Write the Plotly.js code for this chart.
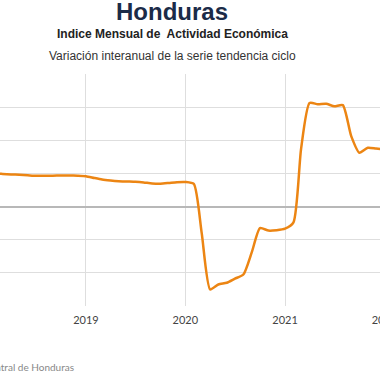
<!DOCTYPE html>
<html>
<head>
<meta charset="utf-8">
<script src="https://cdn.plot.ly/plotly-3.0.1.min.js"></script>
<style>
html,body{margin:0;padding:0;width:380px;height:380px;overflow:hidden;background:#fff;}
#chart{position:absolute;left:-60px;top:0;width:500px;height:380px;}
</style>
</head>
<body>
<div id="chart"></div>
<script>
// Monthly dates (first of month), Jan 2018 .. Jan 2022
const months = [
 '2018-01','2018-02','2018-03','2018-04','2018-05','2018-06','2018-07','2018-08','2018-09','2018-10','2018-11','2018-12',
 '2019-01','2019-02','2019-03','2019-04','2019-05','2019-06','2019-07','2019-08','2019-09','2019-10','2019-11','2019-12',
 '2020-01','2020-02','2020-03','2020-04','2020-05','2020-06','2020-07','2020-08','2020-09','2020-10','2020-11','2020-12',
 '2021-01','2021-02','2021-03','2021-04','2021-05','2021-06','2021-07','2021-08','2021-09','2021-10','2021-11','2021-12',
 '2022-01'
];
// Variación interanual (%) de la serie tendencia ciclo
const variacion = [
 4.1, 4.0, 3.94, 3.88, 3.84, 3.78, 3.72, 3.72, 3.73, 3.76, 3.76, 3.73,
 3.67, 3.45, 3.27, 3.15, 3.07, 3.03, 2.99, 2.91, 2.79, 2.76, 2.85, 2.95,
 2.97, 2.73, -3.2, -10.0, -9.4, -9.2, -8.7, -8.2, -5.5, -2.6, -2.9, -2.85,
 -2.67, -1.9, 7.0, 12.5, 12.36, 12.4, 12.1, 12.24, 8.5, 6.5, 7.1, 7.0,
 6.9
];
const titulo = 'Honduras';
const subtitulo = 'Indice Mensual de  Actividad Económica';
const subtitulo2 = 'Variación interanual de la serie tendencia ciclo';
const fuente = 'Fuente: Banco Central de Honduras';

const trace = {
  x: months.map(m => m + '-01'),
  y: variacion,
  type: 'scatter',
  mode: 'lines',
  line: {color: '#EC8513', width: 2.5, shape: 'spline', smoothing: 0.6},
  hoverinfo: 'x+y'
};

const layout = {
  width: 500, height: 380,
  margin: {l: 0, r: 0, t: 74, b: 74},
  paper_bgcolor: '#fff', plot_bgcolor: '#fff',
  showlegend: false,
  title: {
    text: '<b>' + titulo + '</b>',
    font: {family: 'Liberation Sans, Arial, sans-serif', size: 24, color: '#1B2B48'},
    x: 0.464, xref: 'paper', xanchor: 'center',
    y: 1 - 12/380, yref: 'container', yanchor: 'middle'
  },
  xaxis: {
    type: 'date',
    range: ['2017-07-14', '2022-07-24'],
    dtick: 'M12', tick0: '2018-01-01', tickformat: '%Y',
    showgrid: true, gridcolor: '#DEDEDE', gridwidth: 1,
    showline: false, zeroline: false, ticks: '',
    ticklabelstandoff: 6,
    tickfont: {family: 'Lato, DejaVu Sans, sans-serif', size: 11, color: '#444'}
  },
  yaxis: {
    range: [-12, 16], dtick: 4, tick0: 0,
    showticklabels: false, ticks: '',
    showgrid: true, gridcolor: '#DEDEDE', gridwidth: 1,
    zeroline: true, zerolinecolor: '#B8B8B8', zerolinewidth: 2,
    showline: false, fixedrange: true
  },
  annotations: [
    {text: '<b>' + subtitulo + '</b>', xref: 'paper', yref: 'paper', x: 0.464, y: (306 - 34)/232,
     xanchor: 'center', yanchor: 'middle', showarrow: false,
     font: {family: 'Liberation Sans, Arial, sans-serif', size: 12, color: '#222'}},
    {text: subtitulo2, xref: 'paper', yref: 'paper', x: 0.464, y: (306 - 56.5)/232,
     xanchor: 'center', yanchor: 'middle', showarrow: false,
     font: {family: 'Liberation Sans, Arial, sans-serif', size: 12, color: '#333'}},
    {text: fuente, xref: 'paper', yref: 'paper', x: 136/500, y: (306 - 366.5)/232,
     xanchor: 'right', yanchor: 'middle', showarrow: false,
     font: {family: 'Lato, DejaVu Sans, sans-serif', size: 10, color: '#888'}}
  ]
};

Plotly.newPlot('chart', [trace], layout, {displayModeBar: false, staticPlot: true});
</script>
</body>
</html>
